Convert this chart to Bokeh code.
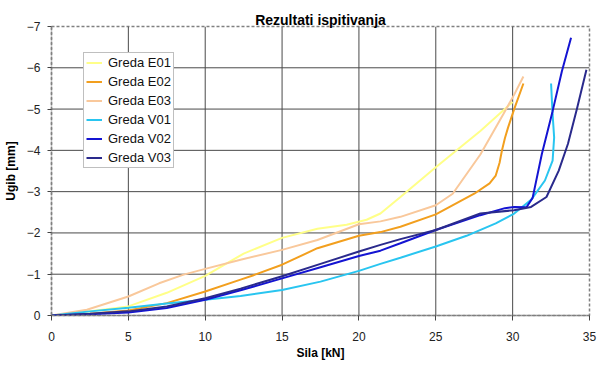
from bokeh.plotting import figure
from bokeh.models import Range1d, FixedTicker, Legend
from bokeh.embed import file_html
from bokeh.resources import INLINE

# ---- data ----
series_names = ["Greda E01", "Greda E02", "Greda E03", "Greda V01", "Greda V02", "Greda V03"]
series_colors = ["#FFFF88", "#F29F1E", "#F9C89B", "#29C5F0", "#1414D2", "#2A2A8C"]

e01_x = [0, 2, 5, 7.5, 10, 12.5, 15, 17.3, 19.2, 20.5, 21.4, 22.7, 25, 27.9, 30]
e01_y = [0, -0.08, -0.22, -0.55, -0.96, -1.5, -1.88, -2.1, -2.2, -2.32, -2.47, -2.87, -3.59, -4.47, -5.17]

e02_x = [0, 2.5, 5, 7.5, 10, 12.3, 13.1, 15, 17.3, 20, 21.4, 22.7, 25, 27.5, 28.5, 28.9, 29.15, 29.3, 29.5, 29.7, 30.1, 30.7]
e02_y = [0, -0.04, -0.12, -0.3, -0.58, -0.87, -0.97, -1.23, -1.63, -1.93, -2.02, -2.15, -2.45, -2.95, -3.2, -3.39, -3.7, -3.99, -4.3, -4.55, -5.0, -5.62]

e03_x = [0, 2.3, 5, 7, 8.6, 10, 12.3, 15, 17.3, 20, 21.4, 22.7, 25, 26.1, 27.9, 29.4, 30.1, 30.7]
e03_y = [0, -0.14, -0.46, -0.78, -0.99, -1.13, -1.35, -1.59, -1.83, -2.21, -2.28, -2.39, -2.67, -2.95, -3.9, -4.88, -5.35, -5.79]

v01_x = [0, 2.5, 5, 7.5, 10, 12.3, 15, 17.5, 20, 21.4, 22.7, 25, 27, 28.9, 30.1, 31.2, 32.1, 32.6, 32.7, 32.6, 32.5]
v01_y = [0, -0.1, -0.19, -0.29, -0.38, -0.47, -0.62, -0.82, -1.08, -1.25, -1.4, -1.67, -1.93, -2.23, -2.47, -2.8, -3.27, -3.75, -4.31, -4.87, -5.62]

v02_x = [0, 2.5, 5, 7.5, 10, 12.3, 15, 17.5, 20, 21.4, 22.7, 25, 27.9, 29.5, 30.1, 30.9, 31.3, 31.9, 32.6, 33.2, 33.8]
v02_y = [0, -0.03, -0.07, -0.18, -0.38, -0.61, -0.9, -1.17, -1.44, -1.57, -1.75, -2.07, -2.43, -2.6, -2.63, -2.62, -2.85, -3.91, -4.95, -5.91, -6.73]

v03_x = [0, 2.5, 5, 7.5, 10, 12.3, 15, 17.5, 20, 21.4, 22.7, 25, 27.9, 30.1, 31.2, 32.2, 33.0, 33.6, 34.2, 34.8]
v03_y = [0, -0.04, -0.1, -0.22, -0.42, -0.65, -0.95, -1.25, -1.55, -1.71, -1.85, -2.07, -2.47, -2.55, -2.63, -2.87, -3.51, -4.16, -5.03, -5.95]

x_ticks = [0, 5, 10, 15, 20, 25, 30, 35]
y_ticks = [0, -1, -2, -3, -4, -5, -6, -7]

title_text = "Rezultati ispitivanja"
x_label = "Sila [kN]"
y_label = "Ugib [mm]"

FONT = "Liberation Sans"
X0, X1 = x_ticks[0], x_ticks[-1]
Y0, Y1 = y_ticks[0], y_ticks[-1]

p = figure(width=600, height=362, output_backend="svg", toolbar_location=None,
           x_range=Range1d(X0, X1), y_range=Range1d(Y0, Y1),
           min_border_left=51, min_border_right=11, min_border_top=26, min_border_bottom=46)
p.title.text = title_text
p.title.text_font = FONT
p.title.text_font_size = "14px"
p.title.text_font_style = "bold"
p.title.align = "center"
p.title.standoff = -3
p.title.text_color = "#000000"

p.background_fill_color = "white"
p.border_fill_color = "white"
p.outline_line_color = "#808080"
p.outline_line_width = 1.5
p.outline_line_dash = "3 2"
p.grid.visible = False

# grid lines drawn as glyphs from the tick arrays
inner_x = x_ticks[1:-1]
inner_y = y_ticks[1:-1]
p.multi_line(xs=[[t, t] for t in inner_x], ys=[[Y0, Y1] for _ in inner_x],
             line_color="#4a4a4a", line_width=1)
p.multi_line(xs=[[X0, X1] for _ in inner_y], ys=[[t, t] for t in inner_y],
             line_color="#4a4a4a", line_width=1)

# axes
p.xaxis.ticker = FixedTicker(ticks=x_ticks)
p.yaxis.ticker = FixedTicker(ticks=y_ticks)
for ax in (p.xaxis, p.yaxis):
    ax.axis_line_color = "#808080"
    ax.axis_line_width = 1.5
    ax.axis_line_dash = "3 2"
    ax.major_tick_in = 0
    ax.major_tick_line_color = "#444444"
    ax.minor_tick_line_color = None
    ax.major_label_text_font = FONT
    ax.major_label_text_font_size = "12px"
    ax.major_label_text_color = "#222222"
    ax.axis_label_text_font = FONT
    ax.axis_label_text_font_size = "12px"
    ax.axis_label_text_font_style = "bold"
    ax.axis_label_text_color = "#000000"
p.xaxis.axis_label = x_label
p.yaxis.axis_label = y_label
p.xaxis.major_tick_out = 5
p.xaxis.major_label_standoff = 11
p.xaxis.axis_label_standoff = 2
p.yaxis.major_tick_out = 4
p.yaxis.major_label_standoff = 7
p.yaxis.axis_label_standoff = 6

xs = [e01_x, e02_x, e03_x, v01_x, v02_x, v03_x]
ys = [e01_y, e02_y, e03_y, v01_y, v02_y, v03_y]
items = []
for name, color, x, y in zip(series_names, series_colors, xs, ys):
    r = p.line(x, y, line_color=color, line_width=2)
    items.append((name, [r]))

legend = Legend(items=items, location=(32, 147))
legend.label_text_font = FONT
legend.label_text_font_size = "13px"
legend.label_text_color = "#111111"
legend.label_height = 15
legend.glyph_height = 15
legend.glyph_width = 16
legend.label_standoff = 6
legend.spacing = 4
legend.padding = 2
legend.margin = 0
legend.border_line_color = "#808080"
legend.border_line_width = 1
legend.background_fill_color = "white"
legend.background_fill_alpha = 1
p.add_layout(legend, "center")

open("out.html", "w").write(file_html(p, INLINE))
